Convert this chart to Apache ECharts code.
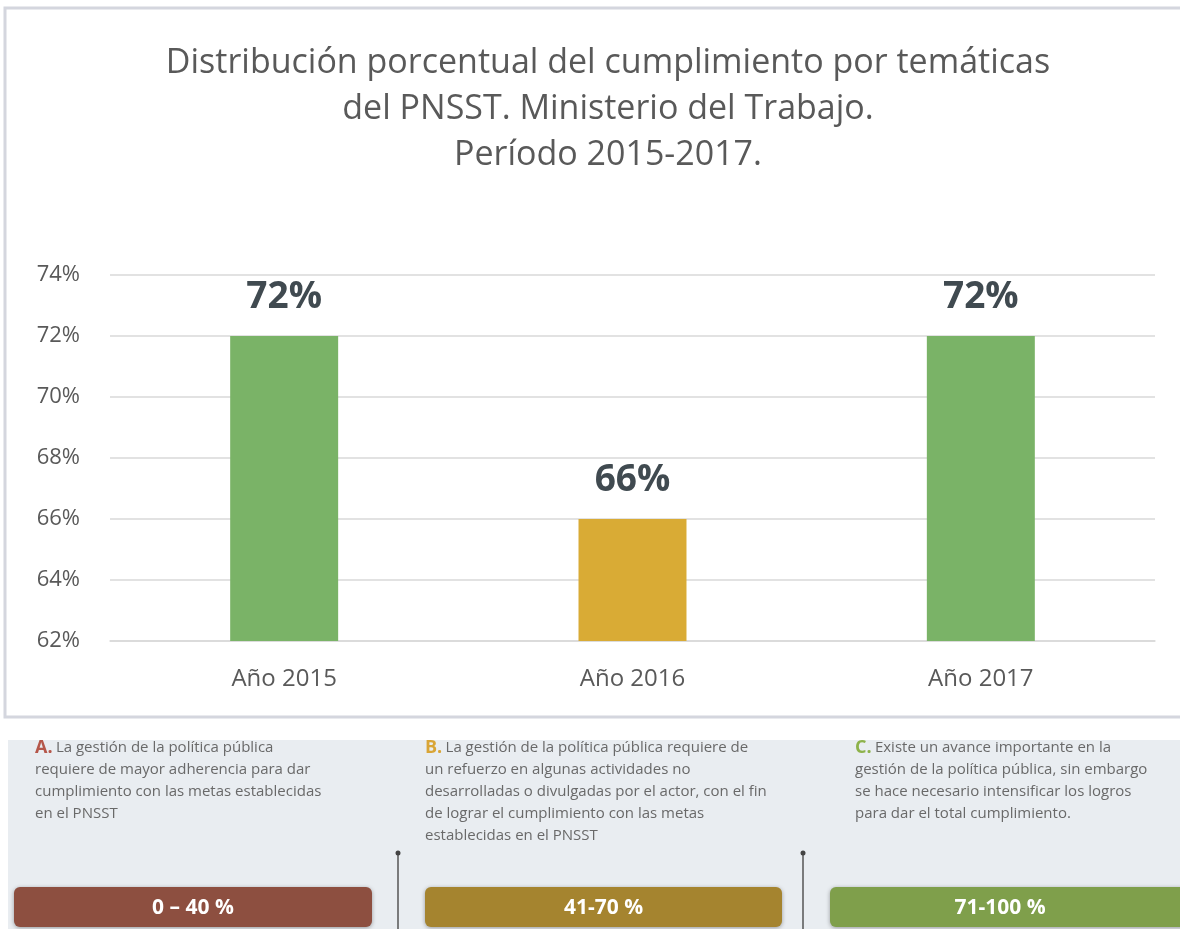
<!DOCTYPE html>
<html>
<head>
<meta charset="utf-8">
<script src="https://cdn.jsdelivr.net/npm/echarts@6/dist/echarts.min.js"></script>
<style>
  html, body { margin: 0; padding: 0; background: #fff; }
  #main { width: 1180px; height: 929px; }
</style>
</head>
<body>
<div id="main"></div>
<script>
// chart data
const years = ['Año 2015', 'Año 2016', 'Año 2017'];
const cumplimiento = [72, 66, 72];
const barColors = ['#7ab367', '#d9ab35', '#7ab367'];

// legend texts below the chart
const levelTags = ['A.', 'B.', 'C.'];
const levelTexts = [
    'La gestión de la política pública\nrequiere de mayor adherencia para dar\ncumplimiento con las metas establecidas\nen el PNSST',
    'La gestión de la política pública requiere de\nun refuerzo en algunas actividades no\ndesarrolladas o divulgadas por el actor, con el fin\nde lograr el cumplimiento con las metas\nestablecidas en el PNSST',
    'Existe un avance importante en la\ngestión de la política pública, sin embargo\nse hace necesario intensificar los logros\npara dar el total cumplimiento.'
];
const levelRanges = ['0 – 40 %', '41-70 %', '71-100 %'];

const tagColors = ['#b5574a', '#d9a536', '#8db24a'];
const pillColors = ['#8d4f40', '#a5842f', '#7f9f4b'];
const textX = [35, 425, 855];
const pillX = [14, 425, 830];
const pillW = [358, 357, 360];

const chart = echarts.init(document.getElementById('main'), null, { renderer: 'canvas' });

const graphics = [
    // chart frame
    { type: 'rect', shape: { x: 5, y: 8, width: 1180, height: 709 }, style: { fill: 'none', stroke: '#d4d6de', lineWidth: 3 }, z: -1 },
    // lower panel
    { type: 'rect', shape: { x: 8, y: 740, width: 1172, height: 189 }, style: { fill: '#e9edf1' }, z: -1 }
];

levelTags.forEach((tag, i) => {
    graphics.push({
        type: 'text',
        left: textX[i],
        top: 739,
        style: {
            text: '{t|' + tag + '} ' + levelTexts[i].split('\n').map(l => '{b|' + l + '}').join('\n'),
            rich: {
                t: { fill: tagColors[i], fontWeight: 'bold', fontSize: 18, fontFamily: 'Open Sans', lineHeight: 22 },
                b: { fill: '#696969', fontSize: 15, fontFamily: 'Open Sans', lineHeight: 22 }
            }
        }
    });
    graphics.push({
        type: 'rect',
        shape: { x: pillX[i], y: 887, width: pillW[i], height: 40, r: 6 },
        style: { fill: pillColors[i], shadowBlur: 4, shadowColor: 'rgba(0,0,0,0.35)', shadowOffsetY: 1 }
    });
    graphics.push({
        type: 'text',
        x: pillX[i] + pillW[i] / 2 - (i === 2 ? 10 : 0),
        y: 908,
        style: {
            text: levelRanges[i], fill: '#fff', fontWeight: 'bold', fontSize: 21,
            fontFamily: 'Open Sans', align: 'center', verticalAlign: 'middle'
        }
    });
});

[398, 803].forEach(x => {
    graphics.push({ type: 'line', shape: { x1: x, y1: 852, x2: x, y2: 929 }, style: { stroke: '#555', lineWidth: 1.5 } });
    graphics.push({ type: 'circle', shape: { cx: x, cy: 853, r: 2.5 }, style: { fill: '#444' } });
});

chart.setOption({
    animation: false,
    backgroundColor: '#fff',
    title: {
        text: 'Distribución porcentual del cumplimiento por temáticas\ndel PNSST. Ministerio del Trabajo.\nPeríodo 2015-2017.',
        left: 603,
        top: 35,
        textAlign: 'center',
        textStyle: {
            fontFamily: 'Open Sans',
            fontWeight: 'normal',
            fontSize: 34,
            lineHeight: 46,
            color: '#595959'
        }
    },
    grid: { left: 110, right: 25, top: 275, bottom: 288 },
    xAxis: {
        type: 'category',
        data: years,
        axisLine: { lineStyle: { color: '#d9d9d9', width: 1.5 } },
        axisTick: { show: false },
        axisLabel: { color: '#595959', fontSize: 24, fontFamily: 'Open Sans', margin: 26 }
    },
    yAxis: {
        type: 'value',
        min: 62,
        max: 74,
        interval: 2,
        axisLabel: { formatter: '{value}%', color: '#595959', fontSize: 22, fontFamily: 'Open Sans', margin: 30 },
        axisLine: { show: false },
        axisTick: { show: false },
        splitLine: { lineStyle: { color: '#d9d9d9', width: 1.5 } }
    },
    series: [{
        type: 'bar',
        barWidth: '31%',
        data: cumplimiento.map((v, i) => ({ value: v, itemStyle: { color: barColors[i] } })),
        label: {
            show: true,
            position: 'top',
            distance: 20,
            formatter: '{c}%',
            color: '#404a50',
            fontWeight: 'bold',
            fontSize: 37,
            fontFamily: 'Open Sans'
        }
    }],
    graphic: graphics
});
</script>
</body>
</html>
